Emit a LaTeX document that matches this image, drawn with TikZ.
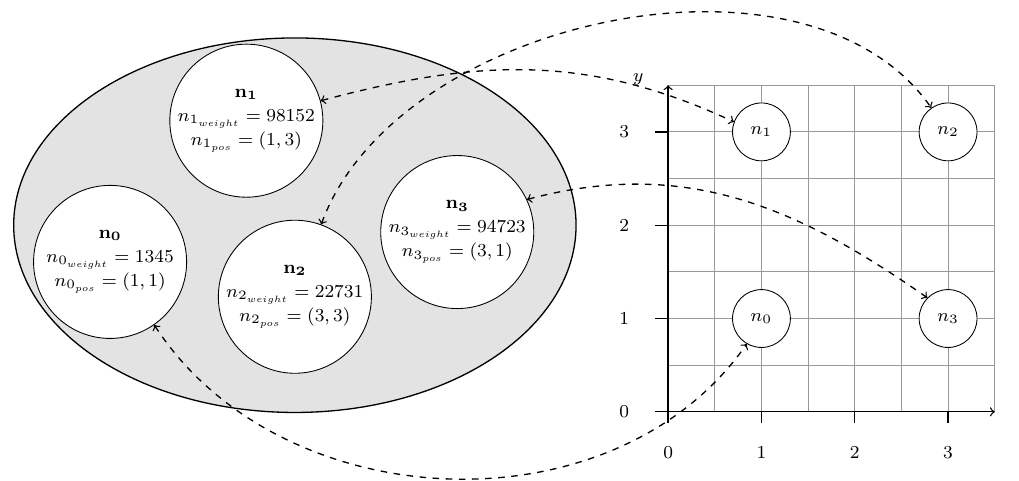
\RequirePackage{fix-cm}
\documentclass[tikz,border=0pt]{standalone}
\usepackage{amsmath,amssymb}
\usepackage{tikz}
\usetikzlibrary{shapes.geometric}

\begin{document}
\begin{tikzpicture}[
    font=\fontsize{8.35}{11}\selectfont,
    pool/.style={ellipse, draw, semithick, fill=gray!22, minimum width=9.04cm, minimum height=6.02cm},
    bignode/.style={circle, draw, fill=white, minimum size=2.46cm, inner sep=0pt, align=center},
    cellnode/.style={circle, draw, fill=white, minimum size=0.93cm, inner sep=0pt},
    link/.style={<->, dashed, semithick}
]
    \useasboundingbox (-10.74,-1.11) rectangle (5.64,6.62);

    \node[pool] (mem) at (-6,3) {};

    \node[bignode] (b0) at (-8.97,2.41) {$\mathbf{n_0}$\\$n_{0_{weight}} = 1345$\\$n_{0_{pos}} = (1,1)$};
    \node[bignode] (b1) at (-6.78,4.68) {$\mathbf{n_1}$\\$n_{1_{weight}} = 98152$\\$n_{1_{pos}} = (1,3)$};
    \node[bignode] (b2) at (-6.00,1.85) {$\mathbf{n_2}$\\$n_{2_{weight}} = 22731$\\$n_{2_{pos}} = (3,3)$};
    \node[bignode] (b3) at (-3.39,2.89) {$\mathbf{n_3}$\\$n_{3_{weight}} = 94723$\\$n_{3_{pos}} = (3,1)$};

    \begin{scope}[x=1.5cm, y=1.5cm]
        \draw[gray!80, step=0.75cm] (0,0) grid (3.5,3.5);
        \draw[semithick, ->] (-0.14,0) -- (3.5,0);
        \draw[semithick, ->] (0,-0.12) -- (0,3.5);
        \foreach \i in {1,2,3} {
            \draw[semithick] (\i,0) -- (\i,-0.12);
            \draw[semithick] (0,\i) -- (-0.14,\i);
        }
        \foreach \i in {0,1,2,3} {
            \node (xl\i) at (\i,-0.44) {\i};
            \node (yl\i) at (-0.47,\i) {\i};
        }
        \node (ylab) at (-0.32,3.56) {$y$};

        \node[cellnode] (g0) at (1,1) {$n_0$};
        \node[cellnode] (g1) at (1,3) {$n_1$};
        \node[cellnode] (g2) at (3,3) {$n_2$};
        \node[cellnode] (g3) at (3,1) {$n_3$};
    \end{scope}

    \draw[link] (b1.15) to[out=15, in=155] (g1.160);
    \draw[link] (b2.70) to[out=70, in=125, looseness=0.9] (g2.125);
    \draw[link] (b3.25) to[out=15, in=145] (g3.135);
    \draw[link] (b0.-55) to[out=-57, in=235] (g0.240);
\end{tikzpicture}
\end{document}
